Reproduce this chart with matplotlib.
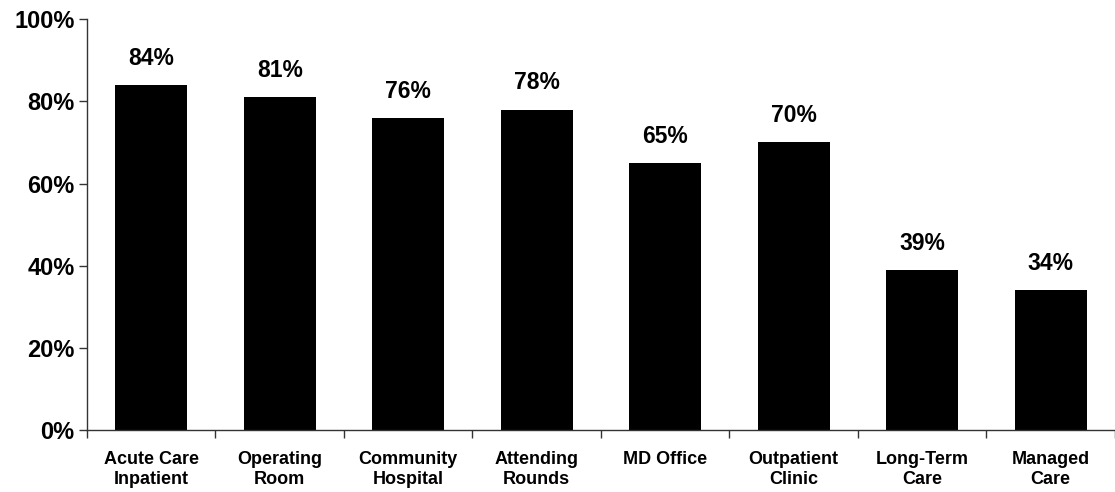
import numpy as np
import matplotlib
matplotlib.use('Agg')
from matplotlib import pyplot as plt
from matplotlib.ticker import FixedLocator

categories = ["Acute Care\nInpatient", "Operating\nRoom", "Community\nHospital",
              "Attending\nRounds", "MD Office", "Outpatient\nClinic",
              "Long-Term\nCare", "Managed\nCare"]
values = [84, 81, 76, 78, 65, 70, 39, 34]
yticks = [0, 20, 40, 60, 80, 100]

plt.rcParams['font.family'] = ['Liberation Sans', 'DejaVu Sans']
plt.rcParams['font.weight'] = 'bold'

fig = plt.figure(figsize=(11.15, 4.92), dpi=100)
ax = fig.add_axes([0.078, 0.126, 0.922, 0.835])

x = np.arange(len(values))
bars = ax.bar(x, values, width=0.56, color='black')

for xi, v in zip(x, values):
    ax.annotate(f"{v}%", (xi, v), xytext=(0, 11), textcoords='offset points',
                ha='center', va='bottom', fontsize=16.5, fontweight='bold')

ax.set_xlim(-0.5, len(values) - 0.5)
ax.set_ylim(0, 100)
ax.set_yticks(yticks)
ax.set_yticklabels([f"{t}%" for t in yticks], fontsize=17, fontweight='bold')

ax.set_xticks(x)
ax.set_xticklabels(categories, fontsize=13, fontweight='bold', linespacing=1.25)
ax.tick_params(axis='x', which='major', length=0, pad=15)
ax.xaxis.set_minor_locator(FixedLocator(np.arange(len(values) + 1) - 0.5))
ax.tick_params(axis='x', which='minor', length=6, color='#333333', width=1)
ax.tick_params(axis='y', length=6, color='#333333', width=1, pad=3)

for side in ['top', 'right']:
    ax.spines[side].set_visible(False)
for side in ['left', 'bottom']:
    ax.spines[side].set_color('#333333')
    ax.spines[side].set_linewidth(1)

fig.savefig('out.png', dpi=100)
